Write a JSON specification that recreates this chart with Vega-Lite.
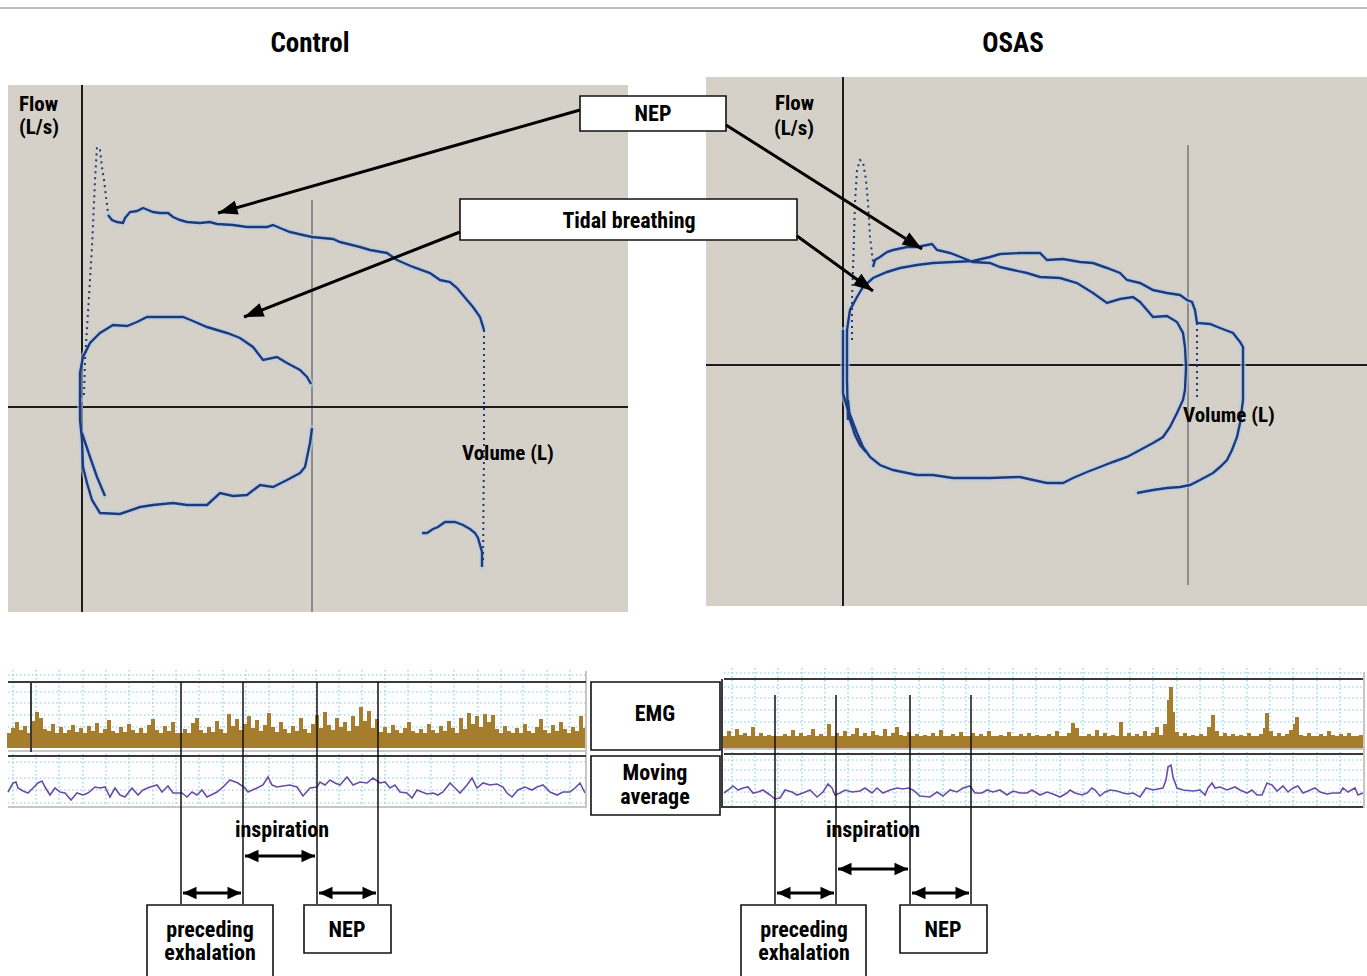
{
"$schema": "https://vega.github.io/schema/vega-lite/v6.json",
"width": 1367, "height": 976, "padding": 0, "autosize": {"type": "none"},
"background": "white",
"config": {"view": {"stroke": null}},
"datasets": {
"topline": [{"x":0,"y":8,"x2":1367,"y2":8}],
"panels": [{"x":8,"y":85,"x2":628,"y2":612},{"x":706,"y":77,"x2":1367,"y2":606}],
"axes": [{"x":82,"y":85,"x2":82,"y2":612},{"x":8,"y":407,"x2":628,"y2":407},{"x":843,"y":77,"x2":843,"y2":606},{"x":706,"y":365,"x2":1367,"y2":365}],
"guides": [{"x":312,"y":200,"x2":312,"y2":612},{"x":1188,"y":145,"x2":1188,"y2":585}],
"loops": [
{"c":"c1","x":108,"y":215},{"c":"c1","x":112,"y":220},{"c":"c1","x":117,"y":222},{"c":"c1","x":123,"y":223},{"c":"c1","x":125,"y":218},{"c":"c1","x":130,"y":212},{"c":"c1","x":137,"y":211},{"c":"c1","x":143,"y":208},{"c":"c1","x":148,"y":210},{"c":"c1","x":153,"y":212},{"c":"c1","x":160,"y":213},{"c":"c1","x":168,"y":213},{"c":"c1","x":173,"y":217},{"c":"c1","x":180,"y":220},{"c":"c1","x":187,"y":222},{"c":"c1","x":200,"y":223},{"c":"c1","x":210,"y":222},{"c":"c1","x":217,"y":224},{"c":"c1","x":233,"y":225},{"c":"c1","x":247,"y":227},{"c":"c1","x":260,"y":227},{"c":"c1","x":267,"y":227},{"c":"c1","x":273,"y":225},{"c":"c1","x":280,"y":228},{"c":"c1","x":290,"y":232},{"c":"c1","x":303,"y":235},{"c":"c1","x":312,"y":237},{"c":"c1","x":333,"y":239},{"c":"c1","x":340,"y":242},{"c":"c1","x":360,"y":247},{"c":"c1","x":370,"y":250},{"c":"c1","x":387,"y":253},{"c":"c1","x":397,"y":260},{"c":"c1","x":413,"y":267},{"c":"c1","x":430,"y":273},{"c":"c1","x":440,"y":280},{"c":"c1","x":450,"y":282},{"c":"c1","x":457,"y":288},{"c":"c1","x":467,"y":300},{"c":"c1","x":473,"y":307},{"c":"c1","x":480,"y":317},{"c":"c1","x":484,"y":330},
{"c":"c2","x":422,"y":533},{"c":"c2","x":427,"y":533},{"c":"c2","x":433,"y":529},{"c":"c2","x":438,"y":527},{"c":"c2","x":445,"y":522},{"c":"c2","x":455,"y":522},{"c":"c2","x":463,"y":525},{"c":"c2","x":470,"y":529},{"c":"c2","x":475,"y":533},{"c":"c2","x":478,"y":538},{"c":"c2","x":480,"y":545},{"c":"c2","x":482,"y":552},{"c":"c2","x":482,"y":567},
{"c":"c3","x":80,"y":400},{"c":"c3","x":80,"y":373},{"c":"c3","x":83,"y":357},{"c":"c3","x":90,"y":343},{"c":"c3","x":100,"y":333},{"c":"c3","x":113,"y":325},{"c":"c3","x":127,"y":326},{"c":"c3","x":137,"y":322},{"c":"c3","x":147,"y":317},{"c":"c3","x":157,"y":317},{"c":"c3","x":173,"y":317},{"c":"c3","x":183,"y":317},{"c":"c3","x":193,"y":321},{"c":"c3","x":207,"y":327},{"c":"c3","x":227,"y":333},{"c":"c3","x":240,"y":338},{"c":"c3","x":253,"y":347},{"c":"c3","x":263,"y":360},{"c":"c3","x":277,"y":357},{"c":"c3","x":287,"y":363},{"c":"c3","x":300,"y":370},{"c":"c3","x":307,"y":377},{"c":"c3","x":311,"y":384},
{"c":"c4","x":312,"y":428},{"c":"c4","x":310,"y":443},{"c":"c4","x":305,"y":467},{"c":"c4","x":300,"y":473},{"c":"c4","x":287,"y":480},{"c":"c4","x":273,"y":487},{"c":"c4","x":260,"y":485},{"c":"c4","x":247,"y":495},{"c":"c4","x":233,"y":496},{"c":"c4","x":220,"y":493},{"c":"c4","x":207,"y":505},{"c":"c4","x":187,"y":505},{"c":"c4","x":173,"y":503},{"c":"c4","x":153,"y":505},{"c":"c4","x":140,"y":507},{"c":"c4","x":120,"y":514},{"c":"c4","x":100,"y":513},{"c":"c4","x":92,"y":500},{"c":"c4","x":87,"y":483},{"c":"c4","x":83,"y":467},{"c":"c4","x":82,"y":440},{"c":"c4","x":80,"y":420},{"c":"c4","x":80,"y":400},
{"c":"c5","x":82,"y":433},{"c":"c5","x":90,"y":457},{"c":"c5","x":97,"y":477},{"c":"c5","x":105,"y":496},
{"c":"o1","x":873,"y":267},{"c":"o1","x":875,"y":260},{"c":"o1","x":880,"y":257},{"c":"o1","x":887,"y":252},{"c":"o1","x":893,"y":250},{"c":"o1","x":907,"y":247},{"c":"o1","x":917,"y":247},{"c":"o1","x":927,"y":245},{"c":"o1","x":932,"y":244},{"c":"o1","x":937,"y":250},{"c":"o1","x":950,"y":253},{"c":"o1","x":963,"y":258},{"c":"o1","x":973,"y":262},{"c":"o1","x":990,"y":263},{"c":"o1","x":1000,"y":267},{"c":"o1","x":1013,"y":270},{"c":"o1","x":1027,"y":273},{"c":"o1","x":1040,"y":277},{"c":"o1","x":1060,"y":278},{"c":"o1","x":1077,"y":283},{"c":"o1","x":1093,"y":293},{"c":"o1","x":1107,"y":303},{"c":"o1","x":1120,"y":299},{"c":"o1","x":1133,"y":297},{"c":"o1","x":1140,"y":302},{"c":"o1","x":1147,"y":310},{"c":"o1","x":1153,"y":317},{"c":"o1","x":1167,"y":316},{"c":"o1","x":1177,"y":322},{"c":"o1","x":1183,"y":333},{"c":"o1","x":1185,"y":347},{"c":"o1","x":1186,"y":367},{"c":"o1","x":1185,"y":390},{"c":"o1","x":1183,"y":400},{"c":"o1","x":1177,"y":413},{"c":"o1","x":1170,"y":427},{"c":"o1","x":1163,"y":437},{"c":"o1","x":1153,"y":443},{"c":"o1","x":1140,"y":450},{"c":"o1","x":1127,"y":457},{"c":"o1","x":1113,"y":462},{"c":"o1","x":1100,"y":467},{"c":"o1","x":1087,"y":472},{"c":"o1","x":1073,"y":478},{"c":"o1","x":1063,"y":483},{"c":"o1","x":1047,"y":483},{"c":"o1","x":1033,"y":480},{"c":"o1","x":1020,"y":477},{"c":"o1","x":990,"y":478},{"c":"o1","x":953,"y":478},{"c":"o1","x":933,"y":475},{"c":"o1","x":917,"y":475},{"c":"o1","x":893,"y":470},{"c":"o1","x":880,"y":465},{"c":"o1","x":870,"y":457},{"c":"o1","x":863,"y":447},{"c":"o1","x":857,"y":433},{"c":"o1","x":852,"y":420},{"c":"o1","x":847,"y":407},{"c":"o1","x":843,"y":393},{"c":"o1","x":843,"y":330},
{"c":"o2","x":848,"y":420},{"c":"o2","x":847,"y":380},{"c":"o2","x":847,"y":330},{"c":"o2","x":850,"y":310},{"c":"o2","x":857,"y":297},{"c":"o2","x":863,"y":287},{"c":"o2","x":873,"y":278},{"c":"o2","x":887,"y":272},{"c":"o2","x":900,"y":268},{"c":"o2","x":917,"y":265},{"c":"o2","x":933,"y":263},{"c":"o2","x":953,"y":262},{"c":"o2","x":973,"y":261},{"c":"o2","x":990,"y":257},{"c":"o2","x":1000,"y":254},{"c":"o2","x":1020,"y":253},{"c":"o2","x":1040,"y":253},{"c":"o2","x":1047,"y":260},{"c":"o2","x":1063,"y":259},{"c":"o2","x":1080,"y":262},{"c":"o2","x":1093,"y":263},{"c":"o2","x":1107,"y":268},{"c":"o2","x":1120,"y":273},{"c":"o2","x":1127,"y":280},{"c":"o2","x":1140,"y":283},{"c":"o2","x":1153,"y":290},{"c":"o2","x":1167,"y":293},{"c":"o2","x":1180,"y":295},{"c":"o2","x":1187,"y":300},{"c":"o2","x":1192,"y":302},{"c":"o2","x":1195,"y":310},{"c":"o2","x":1197,"y":323},{"c":"o2","x":1210,"y":324},{"c":"o2","x":1220,"y":328},{"c":"o2","x":1233,"y":333},{"c":"o2","x":1240,"y":342},{"c":"o2","x":1243,"y":347},{"c":"o2","x":1243,"y":400},{"c":"o2","x":1240,"y":423},{"c":"o2","x":1237,"y":437},{"c":"o2","x":1232,"y":450},{"c":"o2","x":1227,"y":460},{"c":"o2","x":1220,"y":467},{"c":"o2","x":1213,"y":473},{"c":"o2","x":1200,"y":480},{"c":"o2","x":1190,"y":485},{"c":"o2","x":1180,"y":487},{"c":"o2","x":1167,"y":488},{"c":"o2","x":1153,"y":490},{"c":"o2","x":1137,"y":493},
{"c":"o3","x":848,"y":400},{"c":"o3","x":850,"y":420},{"c":"o3","x":855,"y":435},{"c":"o3","x":860,"y":445},{"c":"o3","x":866,"y":452}
],
"dots": [
{"c":"d1","x":84,"y":395},{"c":"d1","x":85,"y":360},{"c":"d1","x":88,"y":313},{"c":"d1","x":92,"y":247},{"c":"d1","x":95,"y":180},{"c":"d1","x":97,"y":147},{"c":"d1","x":100,"y":150},{"c":"d1","x":102,"y":167},{"c":"d1","x":104,"y":180},{"c":"d1","x":106,"y":197},{"c":"d1","x":108,"y":213},
{"c":"d2","x":484,"y":330},{"c":"d2","x":484,"y":450},{"c":"d2","x":483,"y":560},
{"c":"d3","x":852,"y":340},{"c":"d3","x":852,"y":300},{"c":"d3","x":853,"y":270},{"c":"d3","x":855,"y":203},{"c":"d3","x":857,"y":170},{"c":"d3","x":860,"y":160},{"c":"d3","x":863,"y":162},{"c":"d3","x":866,"y":180},{"c":"d3","x":868,"y":203},{"c":"d3","x":870,"y":237},{"c":"d3","x":873,"y":262},
{"c":"d4","x":1197,"y":323},{"c":"d4","x":1197,"y":400}
],
"titles": [{"x":310,"y":44,"t":"Control"},{"x":1013,"y":44,"t":"OSAS"}],
"ltext": [{"x":19,"y":105,"t":"Flow"},{"x":19,"y":128,"t":"(L/s)"},{"x":462,"y":454,"t":"Volume (L)"},{"x":775,"y":104,"t":"Flow"},{"x":774,"y":129,"t":"(L/s)"},{"x":1183,"y":416,"t":"Volume (L)"}],
"ctext": [{"x":653,"y":114,"t":"NEP"},{"x":629,"y":221,"t":"Tidal breathing"},{"x":655,"y":714,"t":"EMG"},{"x":655,"y":773,"t":"Moving"},{"x":655,"y":797,"t":"average"},{"x":282,"y":830,"t":"inspiration"},{"x":873,"y":830,"t":"inspiration"},{"x":210,"y":930,"t":"preceding"},{"x":210,"y":953,"t":"exhalation"},{"x":347,"y":930,"t":"NEP"},{"x":804,"y":930,"t":"preceding"},{"x":804,"y":953,"t":"exhalation"},{"x":943,"y":930,"t":"NEP"}],
"boxes": [{"x":580,"y":96,"x2":726,"y2":131},{"x":460,"y":199,"x2":797,"y2":240},{"x":591,"y":682,"x2":720,"y2":750},{"x":591,"y":756,"x2":720,"y2":815},{"x":147,"y":905,"x2":273,"y2":990},{"x":304,"y":905,"x2":391,"y2":953},{"x":741,"y":905,"x2":866,"y2":990},{"x":900,"y":905,"x2":987,"y2":953}],
"callouts": [{"x":218,"y":213,"x2":580,"y2":110},{"x":922,"y":249,"x2":726,"y2":125},{"x":244,"y":317,"x2":460,"y2":232},{"x":873,"y":291,"x2":797,"y2":236}],
"spans": [{"x":183,"y":893,"x2":212,"y2":893},{"x":241,"y":893,"x2":212,"y2":893},{"x":245,"y":856,"x2":280,"y2":856},{"x":315,"y":856,"x2":280,"y2":856},{"x":319,"y":893,"x2":347,"y2":893},{"x":376,"y":893,"x2":347,"y2":893},{"x":777,"y":893,"x2":805,"y2":893},{"x":834,"y":893,"x2":805,"y2":893},{"x":838,"y":869,"x2":873,"y2":869},{"x":908,"y":869,"x2":873,"y2":869},{"x":912,"y":893,"x2":940,"y2":893},{"x":969,"y":893,"x2":940,"y2":893}],
"markers": [{"x":181,"y":682,"x2":181,"y2":904},{"x":243,"y":682,"x2":243,"y2":904},{"x":317,"y":682,"x2":317,"y2":904},{"x":378,"y":682,"x2":378,"y2":904},{"x":775,"y":695,"x2":775,"y2":904},{"x":836,"y":695,"x2":836,"y2":904},{"x":910,"y":695,"x2":910,"y2":904},{"x":971,"y":695,"x2":971,"y2":904}],
"framedark": [{"x":8,"y":682,"x2":586,"y2":682},{"x":8,"y":756,"x2":586,"y2":756},{"x":724,"y":679,"x2":1363,"y2":679},{"x":724,"y":754,"x2":1363,"y2":754},{"x":722,"y":807,"x2":1363,"y2":807},{"x":722,"y":679,"x2":722,"y2":808},{"x":31,"y":683,"x2":31,"y2":752}],
"framelight": [{"x":8,"y":807,"x2":586,"y2":807},{"x":586,"y":671,"x2":586,"y2":808},{"x":1364,"y":672,"x2":1364,"y2":808},{"x":8,"y":751,"x2":586,"y2":751},{"x":724,"y":749,"x2":1363,"y2":749}],
"grid": [
{"x":13,"y":670,"x2":13,"y2":806},{"x":36,"y":670,"x2":36,"y2":806},{"x":59,"y":670,"x2":59,"y2":806},{"x":83,"y":670,"x2":83,"y2":806},{"x":106,"y":670,"x2":106,"y2":806},{"x":129,"y":670,"x2":129,"y2":806},{"x":153,"y":670,"x2":153,"y2":806},{"x":176,"y":670,"x2":176,"y2":806},{"x":199,"y":670,"x2":199,"y2":806},{"x":223,"y":670,"x2":223,"y2":806},{"x":246,"y":670,"x2":246,"y2":806},{"x":269,"y":670,"x2":269,"y2":806},{"x":293,"y":670,"x2":293,"y2":806},{"x":316,"y":670,"x2":316,"y2":806},{"x":339,"y":670,"x2":339,"y2":806},{"x":362,"y":670,"x2":362,"y2":806},{"x":385,"y":670,"x2":385,"y2":806},{"x":408,"y":670,"x2":408,"y2":806},{"x":431,"y":670,"x2":431,"y2":806},{"x":454,"y":670,"x2":454,"y2":806},{"x":478,"y":670,"x2":478,"y2":806},{"x":501,"y":670,"x2":501,"y2":806},{"x":523,"y":670,"x2":523,"y2":806},{"x":547,"y":670,"x2":547,"y2":806},{"x":570,"y":670,"x2":570,"y2":806},
{"x":732,"y":668,"x2":732,"y2":806},{"x":755,"y":668,"x2":755,"y2":806},{"x":778,"y":668,"x2":778,"y2":806},{"x":802,"y":668,"x2":802,"y2":806},{"x":825,"y":668,"x2":825,"y2":806},{"x":848,"y":668,"x2":848,"y2":806},{"x":872,"y":668,"x2":872,"y2":806},{"x":895,"y":668,"x2":895,"y2":806},{"x":919,"y":668,"x2":919,"y2":806},{"x":943,"y":668,"x2":943,"y2":806},{"x":966,"y":668,"x2":966,"y2":806},{"x":989,"y":668,"x2":989,"y2":806},{"x":1013,"y":668,"x2":1013,"y2":806},{"x":1036,"y":668,"x2":1036,"y2":806},{"x":1060,"y":668,"x2":1060,"y2":806},{"x":1083,"y":668,"x2":1083,"y2":806},{"x":1107,"y":668,"x2":1107,"y2":806},{"x":1130,"y":668,"x2":1130,"y2":806},{"x":1153,"y":668,"x2":1153,"y2":806},{"x":1177,"y":668,"x2":1177,"y2":806},{"x":1200,"y":668,"x2":1200,"y2":806},{"x":1223,"y":668,"x2":1223,"y2":806},{"x":1247,"y":668,"x2":1247,"y2":806},{"x":1270,"y":668,"x2":1270,"y2":806},{"x":1293,"y":668,"x2":1293,"y2":806},{"x":1317,"y":668,"x2":1317,"y2":806},{"x":1340,"y":668,"x2":1340,"y2":806},
{"x":8,"y":675,"x2":586,"y2":675},{"x":8,"y":692,"x2":586,"y2":692},{"x":8,"y":703,"x2":586,"y2":703},{"x":8,"y":715,"x2":586,"y2":715},{"x":8,"y":727,"x2":586,"y2":727},{"x":8,"y":740,"x2":586,"y2":740},{"x":8,"y":762,"x2":586,"y2":762},{"x":8,"y":778,"x2":586,"y2":778},{"x":8,"y":790,"x2":586,"y2":790},{"x":8,"y":803,"x2":586,"y2":803},
{"x":724,"y":673,"x2":1363,"y2":673},{"x":724,"y":687,"x2":1363,"y2":687},{"x":724,"y":698,"x2":1363,"y2":698},{"x":724,"y":710,"x2":1363,"y2":710},{"x":724,"y":722,"x2":1363,"y2":722},{"x":724,"y":760,"x2":1363,"y2":760},{"x":724,"y":770,"x2":1363,"y2":770},{"x":724,"y":780,"x2":1363,"y2":780},{"x":724,"y":792,"x2":1363,"y2":792},{"x":724,"y":802,"x2":1363,"y2":802}
],
"emgband": [{"x":8,"y":733,"x2":586,"y2":748},{"x":724,"y":736,"x2":1363,"y2":748}],
"emg": [
{"x":9,"y":733},{"x":13,"y":728},{"x":17,"y":722},{"x":21,"y":730},{"x":25,"y":726},{"x":29,"y":734},{"x":33,"y":721},{"x":37,"y":712},{"x":41,"y":718},{"x":45,"y":729},{"x":49,"y":731},{"x":53,"y":724},{"x":57,"y":733},{"x":61,"y":727},{"x":65,"y":735},{"x":69,"y":730},{"x":73,"y":725},{"x":77,"y":732},{"x":81,"y":728},{"x":85,"y":734},{"x":89,"y":726},{"x":93,"y":731},{"x":97,"y":723},{"x":101,"y":733},{"x":105,"y":729},{"x":109,"y":720},{"x":113,"y":731},{"x":117,"y":734},{"x":121,"y":727},{"x":125,"y":732},{"x":129,"y":724},{"x":133,"y":730},{"x":137,"y":735},{"x":141,"y":728},{"x":145,"y":733},{"x":149,"y":725},{"x":153,"y":719},{"x":157,"y":730},{"x":161,"y":734},{"x":165,"y":726},{"x":169,"y":731},{"x":173,"y":722},{"x":177,"y":733},{"x":181,"y":736},{"x":185,"y":729},{"x":189,"y":733},{"x":193,"y":723},{"x":197,"y":718},{"x":201,"y":730},{"x":205,"y":734},{"x":209,"y":727},{"x":213,"y":732},{"x":217,"y":721},{"x":221,"y":729},{"x":225,"y":733},{"x":229,"y":714},{"x":233,"y":726},{"x":237,"y":719},{"x":241,"y":730},{"x":245,"y":724},{"x":249,"y":716},{"x":253,"y":728},{"x":257,"y":720},{"x":261,"y":731},{"x":265,"y":725},{"x":269,"y":713},{"x":273,"y":727},{"x":277,"y":732},{"x":281,"y":722},{"x":285,"y":729},{"x":289,"y":733},{"x":293,"y":726},{"x":297,"y":731},{"x":301,"y":718},{"x":305,"y":729},{"x":309,"y":734},{"x":313,"y":724},{"x":317,"y":715},{"x":321,"y":728},{"x":325,"y":712},{"x":329,"y":725},{"x":333,"y":730},{"x":337,"y":718},{"x":341,"y":727},{"x":345,"y":722},{"x":349,"y":731},{"x":353,"y":716},{"x":357,"y":726},{"x":361,"y":707},{"x":365,"y":721},{"x":369,"y":711},{"x":373,"y":728},{"x":377,"y":719},{"x":381,"y":732},{"x":385,"y":727},{"x":389,"y":733},{"x":393,"y":725},{"x":397,"y":730},{"x":401,"y":735},{"x":405,"y":728},{"x":409,"y":722},{"x":413,"y":731},{"x":417,"y":734},{"x":421,"y":729},{"x":425,"y":733},{"x":429,"y":724},{"x":433,"y":730},{"x":437,"y":734},{"x":441,"y":726},{"x":445,"y":731},{"x":449,"y":721},{"x":453,"y":728},{"x":457,"y":733},{"x":461,"y":718},{"x":465,"y":729},{"x":469,"y":713},{"x":473,"y":724},{"x":477,"y":716},{"x":481,"y":727},{"x":485,"y":714},{"x":489,"y":722},{"x":493,"y":715},{"x":497,"y":729},{"x":501,"y":733},{"x":505,"y":726},{"x":509,"y":731},{"x":513,"y":735},{"x":517,"y":728},{"x":521,"y":733},{"x":525,"y":724},{"x":529,"y":731},{"x":533,"y":734},{"x":537,"y":727},{"x":541,"y":719},{"x":545,"y":730},{"x":549,"y":733},{"x":553,"y":725},{"x":557,"y":731},{"x":561,"y":722},{"x":565,"y":729},{"x":569,"y":733},{"x":573,"y":727},{"x":577,"y":731},{"x":581,"y":716},{"x":585,"y":728},
{"x":725,"y":736},{"x":729,"y":731},{"x":733,"y":738},{"x":737,"y":729},{"x":741,"y":735},{"x":745,"y":733},{"x":749,"y":738},{"x":753,"y":727},{"x":757,"y":736},{"x":761,"y":733},{"x":765,"y":739},{"x":769,"y":735},{"x":773,"y":738},{"x":777,"y":740},{"x":781,"y":737},{"x":785,"y":734},{"x":789,"y":739},{"x":793,"y":730},{"x":797,"y":736},{"x":801,"y":733},{"x":805,"y":738},{"x":809,"y":735},{"x":813,"y":729},{"x":817,"y":737},{"x":821,"y":734},{"x":825,"y":738},{"x":829,"y":724},{"x":833,"y":736},{"x":837,"y":733},{"x":841,"y":738},{"x":845,"y":731},{"x":849,"y":737},{"x":853,"y":734},{"x":857,"y":728},{"x":861,"y":736},{"x":865,"y":733},{"x":869,"y":738},{"x":873,"y":731},{"x":877,"y":735},{"x":881,"y":738},{"x":885,"y":729},{"x":889,"y":736},{"x":893,"y":733},{"x":897,"y":727},{"x":901,"y":735},{"x":905,"y":738},{"x":909,"y":732},{"x":913,"y":737},{"x":917,"y":734},{"x":921,"y":738},{"x":925,"y":735},{"x":929,"y":739},{"x":933,"y":733},{"x":937,"y":737},{"x":941,"y":730},{"x":945,"y":736},{"x":949,"y":738},{"x":953,"y":734},{"x":957,"y":737},{"x":961,"y":732},{"x":965,"y":736},{"x":969,"y":739},{"x":973,"y":733},{"x":977,"y":737},{"x":981,"y":734},{"x":985,"y":738},{"x":989,"y":731},{"x":993,"y":736},{"x":997,"y":739},{"x":1001,"y":735},{"x":1005,"y":737},{"x":1009,"y":732},{"x":1013,"y":736},{"x":1017,"y":739},{"x":1021,"y":734},{"x":1025,"y":737},{"x":1029,"y":733},{"x":1033,"y":738},{"x":1037,"y":735},{"x":1041,"y":736},{"x":1045,"y":739},{"x":1049,"y":734},{"x":1053,"y":737},{"x":1057,"y":731},{"x":1061,"y":736},{"x":1065,"y":738},{"x":1069,"y":733},{"x":1073,"y":723},{"x":1077,"y":728},{"x":1081,"y":736},{"x":1085,"y":739},{"x":1089,"y":734},{"x":1093,"y":737},{"x":1097,"y":730},{"x":1101,"y":736},{"x":1105,"y":733},{"x":1109,"y":738},{"x":1113,"y":735},{"x":1117,"y":737},{"x":1121,"y":722},{"x":1125,"y":736},{"x":1129,"y":733},{"x":1133,"y":738},{"x":1137,"y":734},{"x":1141,"y":737},{"x":1145,"y":731},{"x":1149,"y":736},{"x":1153,"y":733},{"x":1157,"y":727},{"x":1161,"y":735},{"x":1165,"y":724},{"x":1169,"y":700},{"x":1171,"y":687},{"x":1173,"y":712},{"x":1177,"y":732},{"x":1181,"y":736},{"x":1185,"y":733},{"x":1189,"y":737},{"x":1193,"y":735},{"x":1197,"y":738},{"x":1201,"y":734},{"x":1205,"y":737},{"x":1209,"y":727},{"x":1213,"y":715},{"x":1217,"y":731},{"x":1221,"y":736},{"x":1225,"y":733},{"x":1229,"y":737},{"x":1233,"y":734},{"x":1237,"y":738},{"x":1241,"y":735},{"x":1245,"y":737},{"x":1249,"y":733},{"x":1253,"y":736},{"x":1257,"y":739},{"x":1261,"y":734},{"x":1265,"y":728},{"x":1267,"y":713},{"x":1271,"y":731},{"x":1275,"y":736},{"x":1279,"y":733},{"x":1283,"y":737},{"x":1287,"y":734},{"x":1291,"y":730},{"x":1295,"y":724},{"x":1297,"y":717},{"x":1301,"y":735},{"x":1305,"y":737},{"x":1309,"y":733},{"x":1313,"y":736},{"x":1317,"y":738},{"x":1321,"y":734},{"x":1325,"y":737},{"x":1329,"y":731},{"x":1333,"y":735},{"x":1337,"y":738},{"x":1341,"y":734},{"x":1345,"y":737},{"x":1349,"y":733},{"x":1353,"y":736},{"x":1357,"y":739},{"x":1361,"y":735}
],
"mavg": [
{"c":"L","x":8,"y":792},{"c":"L","x":13,"y":783},{"c":"L","x":16,"y":782},{"c":"L","x":18,"y":788},{"c":"L","x":23,"y":791},{"c":"L","x":28,"y":793},{"c":"L","x":33,"y":788},{"c":"L","x":38,"y":783},{"c":"L","x":42,"y":781},{"c":"L","x":45,"y":787},{"c":"L","x":50,"y":795},{"c":"L","x":55,"y":788},{"c":"L","x":60,"y":792},{"c":"L","x":65,"y":793},{"c":"L","x":71,"y":800},{"c":"L","x":77,"y":793},{"c":"L","x":83,"y":795},{"c":"L","x":88,"y":793},{"c":"L","x":95,"y":787},{"c":"L","x":100,"y":788},{"c":"L","x":105,"y":787},{"c":"L","x":110,"y":797},{"c":"L","x":115,"y":788},{"c":"L","x":120,"y":795},{"c":"L","x":125,"y":797},{"c":"L","x":132,"y":788},{"c":"L","x":138,"y":795},{"c":"L","x":143,"y":790},{"c":"L","x":150,"y":787},{"c":"L","x":157,"y":785},{"c":"L","x":162,"y":792},{"c":"L","x":168,"y":786},{"c":"L","x":173,"y":793},{"c":"L","x":182,"y":793},{"c":"L","x":187,"y":797},{"c":"L","x":192,"y":792},{"c":"L","x":197,"y":795},{"c":"L","x":202,"y":790},{"c":"L","x":207,"y":797},{"c":"L","x":217,"y":792},{"c":"L","x":223,"y":787},{"c":"L","x":230,"y":780},{"c":"L","x":238,"y":783},{"c":"L","x":245,"y":788},{"c":"L","x":248,"y":792},{"c":"L","x":257,"y":788},{"c":"L","x":263,"y":785},{"c":"L","x":268,"y":777},{"c":"L","x":272,"y":785},{"c":"L","x":277,"y":787},{"c":"L","x":283,"y":786},{"c":"L","x":290,"y":785},{"c":"L","x":297,"y":787},{"c":"L","x":303,"y":796},{"c":"L","x":310,"y":788},{"c":"L","x":317,"y":787},{"c":"L","x":320,"y":782},{"c":"L","x":325,"y":785},{"c":"L","x":330,"y":780},{"c":"L","x":335,"y":783},{"c":"L","x":340,"y":785},{"c":"L","x":347,"y":777},{"c":"L","x":353,"y":785},{"c":"L","x":360,"y":782},{"c":"L","x":367,"y":783},{"c":"L","x":373,"y":778},{"c":"L","x":380,"y":783},{"c":"L","x":385,"y":782},{"c":"L","x":390,"y":788},{"c":"L","x":395,"y":785},{"c":"L","x":400,"y":792},{"c":"L","x":407,"y":793},{"c":"L","x":412,"y":798},{"c":"L","x":417,"y":790},{"c":"L","x":422,"y":792},{"c":"L","x":427,"y":794},{"c":"L","x":433,"y":793},{"c":"L","x":438,"y":795},{"c":"L","x":443,"y":792},{"c":"L","x":450,"y":783},{"c":"L","x":455,"y":788},{"c":"L","x":460,"y":793},{"c":"L","x":467,"y":785},{"c":"L","x":472,"y":778},{"c":"L","x":477,"y":788},{"c":"L","x":483,"y":783},{"c":"L","x":490,"y":785},{"c":"L","x":497,"y":784},{"c":"L","x":503,"y":787},{"c":"L","x":507,"y":793},{"c":"L","x":512,"y":797},{"c":"L","x":518,"y":790},{"c":"L","x":525,"y":787},{"c":"L","x":532,"y":790},{"c":"L","x":537,"y":787},{"c":"L","x":543,"y":785},{"c":"L","x":550,"y":792},{"c":"L","x":557,"y":795},{"c":"L","x":563,"y":792},{"c":"L","x":570,"y":792},{"c":"L","x":575,"y":788},{"c":"L","x":580,"y":783},{"c":"L","x":585,"y":793},
{"c":"R","x":724,"y":793},{"c":"R","x":728,"y":790},{"c":"R","x":733,"y":786},{"c":"R","x":738,"y":790},{"c":"R","x":743,"y":788},{"c":"R","x":748,"y":787},{"c":"R","x":753,"y":793},{"c":"R","x":758,"y":792},{"c":"R","x":763,"y":790},{"c":"R","x":770,"y":795},{"c":"R","x":775,"y":799},{"c":"R","x":780,"y":798},{"c":"R","x":785,"y":790},{"c":"R","x":792,"y":792},{"c":"R","x":797,"y":795},{"c":"R","x":803,"y":793},{"c":"R","x":810,"y":790},{"c":"R","x":817,"y":797},{"c":"R","x":823,"y":792},{"c":"R","x":828,"y":784},{"c":"R","x":832,"y":788},{"c":"R","x":835,"y":795},{"c":"R","x":840,"y":793},{"c":"R","x":845,"y":790},{"c":"R","x":852,"y":792},{"c":"R","x":860,"y":791},{"c":"R","x":865,"y":788},{"c":"R","x":872,"y":793},{"c":"R","x":877,"y":788},{"c":"R","x":883,"y":793},{"c":"R","x":890,"y":790},{"c":"R","x":897,"y":788},{"c":"R","x":903,"y":789},{"c":"R","x":908,"y":788},{"c":"R","x":913,"y":790},{"c":"R","x":920,"y":796},{"c":"R","x":930,"y":797},{"c":"R","x":937,"y":792},{"c":"R","x":943,"y":796},{"c":"R","x":950,"y":790},{"c":"R","x":957,"y":792},{"c":"R","x":963,"y":788},{"c":"R","x":970,"y":786},{"c":"R","x":975,"y":793},{"c":"R","x":982,"y":793},{"c":"R","x":987,"y":790},{"c":"R","x":993,"y":792},{"c":"R","x":1000,"y":790},{"c":"R","x":1007,"y":795},{"c":"R","x":1013,"y":791},{"c":"R","x":1020,"y":793},{"c":"R","x":1027,"y":793},{"c":"R","x":1032,"y":790},{"c":"R","x":1040,"y":795},{"c":"R","x":1047,"y":792},{"c":"R","x":1053,"y":794},{"c":"R","x":1060,"y":797},{"c":"R","x":1067,"y":793},{"c":"R","x":1070,"y":790},{"c":"R","x":1075,"y":793},{"c":"R","x":1082,"y":795},{"c":"R","x":1087,"y":793},{"c":"R","x":1092,"y":788},{"c":"R","x":1095,"y":790},{"c":"R","x":1100,"y":796},{"c":"R","x":1105,"y":792},{"c":"R","x":1110,"y":790},{"c":"R","x":1117,"y":791},{"c":"R","x":1123,"y":793},{"c":"R","x":1128,"y":794},{"c":"R","x":1133,"y":793},{"c":"R","x":1140,"y":797},{"c":"R","x":1146,"y":788},{"c":"R","x":1153,"y":790},{"c":"R","x":1163,"y":788},{"c":"R","x":1166,"y":780},{"c":"R","x":1168,"y":767},{"c":"R","x":1171,"y":765},{"c":"R","x":1173,"y":777},{"c":"R","x":1177,"y":788},{"c":"R","x":1183,"y":790},{"c":"R","x":1193,"y":791},{"c":"R","x":1200,"y":790},{"c":"R","x":1205,"y":795},{"c":"R","x":1208,"y":788},{"c":"R","x":1212,"y":783},{"c":"R","x":1215,"y":788},{"c":"R","x":1220,"y":787},{"c":"R","x":1227,"y":790},{"c":"R","x":1235,"y":787},{"c":"R","x":1240,"y":790},{"c":"R","x":1247,"y":793},{"c":"R","x":1252,"y":790},{"c":"R","x":1257,"y":795},{"c":"R","x":1262,"y":795},{"c":"R","x":1267,"y":783},{"c":"R","x":1272,"y":785},{"c":"R","x":1277,"y":791},{"c":"R","x":1283,"y":786},{"c":"R","x":1288,"y":792},{"c":"R","x":1293,"y":788},{"c":"R","x":1298,"y":786},{"c":"R","x":1303,"y":793},{"c":"R","x":1308,"y":791},{"c":"R","x":1315,"y":788},{"c":"R","x":1320,"y":792},{"c":"R","x":1327,"y":794},{"c":"R","x":1333,"y":793},{"c":"R","x":1340,"y":793},{"c":"R","x":1343,"y":788},{"c":"R","x":1348,"y":792},{"c":"R","x":1355,"y":788},{"c":"R","x":1358,"y":795},{"c":"R","x":1363,"y":793}
]
},
"encoding": {
"x": {"field": "x", "type": "quantitative", "scale": {"domain": [0, 1367], "nice": false, "zero": false}, "axis": null},
"y": {"field": "y", "type": "quantitative", "scale": {"domain": [0, 976], "nice": false, "zero": false, "reverse": true}, "axis": null}
},
"layer": [
{"data": {"name": "topline"}, "mark": {"type": "rule", "color": "#808080", "strokeWidth": 1}, "encoding": {"x2": {"field": "x2"}, "y2": {"field": "y2"}}},
{"data": {"name": "panels"}, "mark": {"type": "rect", "color": "#d5d1c9"}, "encoding": {"x2": {"field": "x2"}, "y2": {"field": "y2"}}},
{"data": {"name": "guides"}, "mark": {"type": "rule", "color": "#8c8c8c", "strokeWidth": 2}, "encoding": {"x2": {"field": "x2"}, "y2": {"field": "y2"}}},
{"data": {"name": "axes"}, "mark": {"type": "rule", "color": "#1c1c1c", "strokeWidth": 2}, "encoding": {"x2": {"field": "x2"}, "y2": {"field": "y2"}}},
{"data": {"name": "loops"}, "mark": {"type": "line", "color": "#b3cbe8", "strokeWidth": 6, "opacity": 0.6, "strokeJoin": "round", "strokeCap": "round"}, "encoding": {"detail": {"field": "c"}, "order": {"value": null}}},
{"data": {"name": "loops"}, "mark": {"type": "line", "color": "#1f3a7a", "strokeWidth": 2.4}, "encoding": {"detail": {"field": "c"}, "order": {"value": null}}},
{"data": {"name": "dots"}, "mark": {"type": "line", "color": "#1f3a7a", "strokeWidth": 2, "strokeDash": [2, 4]}, "encoding": {"detail": {"field": "c"}, "order": {"value": null}}},
{"data": {"name": "grid"}, "mark": {"type": "rule", "color": "#7fcfe3", "strokeWidth": 1.2, "strokeDash": [1.5, 2.5]}, "encoding": {"x2": {"field": "x2"}, "y2": {"field": "y2"}}},
{"data": {"name": "emgband"}, "mark": {"type": "rect", "color": "#a57d2d"}, "encoding": {"x2": {"field": "x2"}, "y2": {"field": "y2"}}},
{"data": {"name": "emg"}, "mark": {"type": "rule", "color": "#a57d2d", "strokeWidth": 4}, "encoding": {"y2": {"datum": 748}}},
{"data": {"name": "mavg"}, "mark": {"type": "line", "color": "#6a4ca6", "strokeWidth": 1.6}, "encoding": {"detail": {"field": "c"}, "order": {"value": null}}},
{"data": {"name": "framelight"}, "mark": {"type": "rule", "color": "#c8c6bd", "strokeWidth": 2}, "encoding": {"x2": {"field": "x2"}, "y2": {"field": "y2"}}},
{"data": {"name": "framedark"}, "mark": {"type": "rule", "color": "#3a3a3a", "strokeWidth": 2}, "encoding": {"x2": {"field": "x2"}, "y2": {"field": "y2"}}},
{"data": {"name": "markers"}, "mark": {"type": "rule", "color": "#111111", "strokeWidth": 1.5}, "encoding": {"x2": {"field": "x2"}, "y2": {"field": "y2"}}},
{"data": {"name": "boxes"}, "mark": {"type": "rect", "fill": "white", "stroke": "#111111", "strokeWidth": 1.6}, "encoding": {"x2": {"field": "x2"}, "y2": {"field": "y2"}}},
{"data": {"name": "callouts"}, "mark": {"type": "rule", "color": "#000000", "strokeWidth": 3}, "encoding": {"x2": {"field": "x2"}, "y2": {"field": "y2"}}},
{"data": {"name": "callouts"}, "transform": [{"calculate": "atan2(datum.x - datum.x2, datum.y2 - datum.y) * 180 / PI", "as": "ang"}], "mark": {"type": "point", "shape": "M0,0L0.55,1.5L-0.55,1.5Z", "filled": true, "color": "#000000", "opacity": 1, "size": 676, "strokeWidth": 0}, "encoding": {"angle": {"field": "ang", "type": "quantitative", "scale": null}}},
{"data": {"name": "spans"}, "mark": {"type": "rule", "color": "#000000", "strokeWidth": 3}, "encoding": {"x2": {"field": "x2"}, "y2": {"field": "y2"}}},
{"data": {"name": "spans"}, "transform": [{"calculate": "atan2(datum.x - datum.x2, datum.y2 - datum.y) * 180 / PI", "as": "ang"}], "mark": {"type": "point", "shape": "M0,0L0.7,1.5L-0.7,1.5Z", "filled": true, "color": "#000000", "opacity": 1, "size": 324, "strokeWidth": 0}, "encoding": {"angle": {"field": "ang", "type": "quantitative", "scale": null}}},
{"data": {"name": "titles"}, "mark": {"type": "text", "font": "Liberation Sans Narrow, Arial Narrow, Roboto Condensed, sans-serif", "fontSize": 27, "fontWeight": "bold", "align": "center", "baseline": "middle", "color": "#000000"}, "encoding": {"text": {"field": "t"}}},
{"data": {"name": "ltext"}, "mark": {"type": "text", "font": "Liberation Sans Narrow, Arial Narrow, Roboto Condensed, sans-serif", "fontSize": 21, "fontWeight": "bold", "align": "left", "baseline": "middle", "color": "#000000"}, "encoding": {"text": {"field": "t"}}},
{"data": {"name": "ctext"}, "mark": {"type": "text", "font": "Liberation Sans Narrow, Arial Narrow, Roboto Condensed, sans-serif", "fontSize": 22, "fontWeight": "bold", "align": "center", "baseline": "middle", "color": "#000000"}, "encoding": {"text": {"field": "t"}}}
]
}
